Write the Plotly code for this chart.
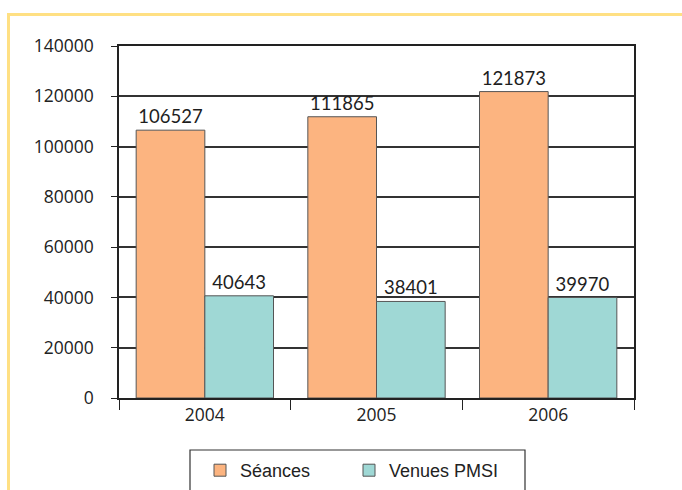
import plotly.graph_objects as go

years = ["2004", "2005", "2006"]
seances = [106527, 111865, 121873]
venues = [40643, 38401, 39970]
y_ticks = [0, 20000, 40000, 60000, 80000, 100000, 120000, 140000]

W, H = 682, 490
L, R, T, B = 119, 48, 46, 92
pw, ph = W - L - R, H - T - B

def px(x):
    return (x - L) / pw

def py(y):
    return (H - B - y) / ph

fig = go.Figure()
fig.add_trace(go.Bar(
    x=years, y=seances, name="Séances",
    marker=dict(color="#FCB480", line=dict(color="#555555", width=1)),
    text=[str(v) for v in seances], textposition="outside",
    textfont=dict(family="Lato", size=18.5, color="#1e1e1e"),
    cliponaxis=False,
))
fig.add_trace(go.Bar(
    x=years, y=venues, name="Venues PMSI",
    marker=dict(color="#9FD8D5", line=dict(color="#555555", width=1)),
    text=[str(v) for v in venues], textposition="outside",
    textfont=dict(family="Lato", size=18.5, color="#1e1e1e"),
    cliponaxis=False,
))

fig.update_layout(
    width=W, height=H,
    margin=dict(l=L, r=R, t=T, b=B, autoexpand=False),
    paper_bgcolor="white", plot_bgcolor="white",
    barmode="group", bargap=0.2, bargroupgap=0,
    showlegend=True,
    legend=dict(
        orientation="h", x=px(200), xanchor="left", y=py(452), yanchor="top",
        font=dict(family="Liberation Sans", size=18, color="#222222"),
        bgcolor="rgba(0,0,0,0)", borderwidth=0,
        entrywidth=104, entrywidthmode="pixels",
    ),
    xaxis=dict(
        showline=True, linecolor="#222222", linewidth=1.5, mirror=True,
        ticks="outside", ticklen=10, tickcolor="#222222", tickwidth=1.2,
        tickson="boundaries", showgrid=False,
        tickfont=dict(family="Open Sans", size=17.5, color="#222222"),
    ),
    yaxis=dict(
        range=[0, 140000], tickvals=y_ticks, ticktext=[str(v) for v in y_ticks],
        showline=True, linecolor="#222222", linewidth=1.5, mirror=True,
        ticks="outside", ticklen=6, tickcolor="#222222", tickwidth=1.2,
        showgrid=True, gridcolor="#333333", gridwidth=1.5,
        zeroline=False, ticklabelstandoff=14,
        tickfont=dict(family="Open Sans", size=17.5, color="#222222"),
    ),
    shapes=[
        dict(type="line", xref="paper", yref="paper",
             x0=px(7.5), x1=px(700), y0=py(14.5), y1=py(14.5),
             line=dict(color="#FFE083", width=3)),
        dict(type="line", xref="paper", yref="paper",
             x0=px(8.5), x1=px(8.5), y0=py(13), y1=py(500),
             line=dict(color="#FFE083", width=3)),
        dict(type="rect", xref="paper", yref="paper",
             x0=px(190), x1=px(525), y0=py(450), y1=py(500),
             line=dict(color="#333333", width=1.2), fillcolor="rgba(0,0,0,0)"),
    ],
)

fig.write_html(
    "out.html",
    config={"displayModeBar": False},
    post_script="document.body.style.margin='0';document.body.style.padding='0';",
)
